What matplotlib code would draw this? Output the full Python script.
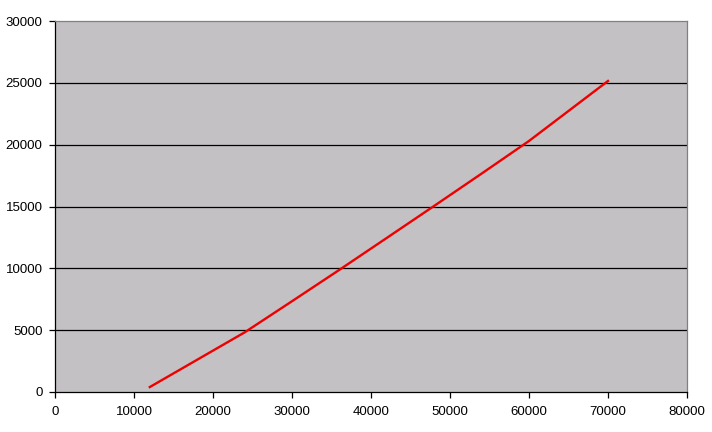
import matplotlib
matplotlib.use('Agg')
import matplotlib.pyplot as plt

# values
x_vals = [12000, 18000, 24000, 30000, 36000, 42000, 48000, 54000, 60000, 66000, 70000]
y_vals = [400, 2610, 4820, 7340, 9880, 12460, 15050, 17660, 20300, 23210, 25150]

x_ticks = [0, 10000, 20000, 30000, 40000, 50000, 60000, 70000, 80000]
y_ticks = [0, 5000, 10000, 15000, 20000, 25000, 30000]

plt.rcParams['font.family'] = ['Liberation Sans', 'DejaVu Sans']

fig = plt.figure(figsize=(7.12, 4.32), dpi=100)
ax = fig.add_axes([55 / 712, 1 - 392 / 432, 632 / 712, 371 / 432])
ax.set_facecolor('#c3c1c4')

for t in y_ticks[1:-1]:
    ax.axhline(t, color='black', lw=0.9, zorder=1)

ax.plot(x_vals, y_vals, color='#ee0000', lw=1.7, zorder=3)

ax.set_xlim(0, 80000)
ax.set_ylim(0, 30000)
ax.set_xticks(x_ticks)
ax.set_yticks(y_ticks)
ax.set_xticklabels([str(t) for t in x_ticks])
ax.set_yticklabels([str(t) for t in y_ticks])
ax.tick_params(direction='out', length=4, width=0.9, labelsize=9.5, color='black')
ax.tick_params(axis='x', pad=6)
ax.tick_params(axis='y', pad=5)

for s in ['top', 'right']:
    ax.spines[s].set_color('#808080')
    ax.spines[s].set_linewidth(0.9)
for s in ['left', 'bottom']:
    ax.spines[s].set_color('black')
    ax.spines[s].set_linewidth(0.9)

fig.savefig('out.png', dpi=100)
